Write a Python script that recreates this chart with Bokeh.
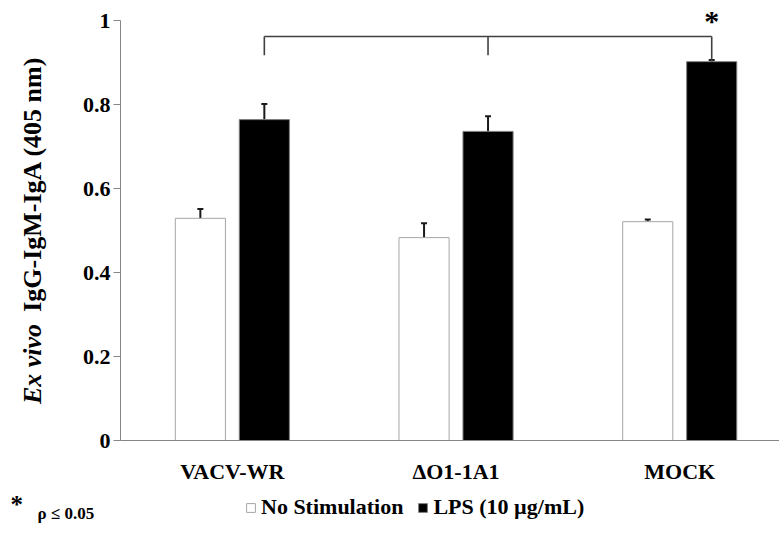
import math
from bokeh.plotting import figure
from bokeh.layouts import row, column
from bokeh.models import (ColumnDataSource, Range1d, FixedTicker, Label, Legend,
                          LegendItem, Whisker, TeeHead)
from bokeh.embed import file_html
from bokeh.resources import INLINE

# ---- data ----
groups = ["VACV-WR", "\u0394O1-1A1", "MOCK"]
no_stim = [0.529, 0.483, 0.521]
no_stim_err = [0.022, 0.034, 0.005]
lps = [0.764, 0.736, 0.902]
lps_err = [0.037, 0.036, 0.004]
y_ticks = [0, 0.2, 0.4, 0.6, 0.8, 1.0]
y_tick_labels = ["0", "0.2", "0.4", "0.6", "0.8", "1"]
series_names = ["No Stimulation", "LPS (10 \u00b5g/mL)"]
bracket_top = 0.962
bracket_ends = [0.917, 0.917, 0.903]

# ---- styling / layout constants ----
FONT = "Liberation Serif"
FS = "22px"
NS_FILL, NS_LINE = "white", "#a6a6a6"
LPS_FILL, LPS_LINE = "black", "#7f7f7f"
centers = [i + 0.5 for i in range(len(groups))]
off = 0.143
bw = 0.224
x_ns = [c - off for c in centers]
x_lps = [c + off for c in centers]

TOP_H = 486
LEFT_W = 62
Y_TOP = 440 / 420          # frame spans page y 0..440, value 1 at y=20

# ---------------- main plot ----------------
p = figure(width=779 - LEFT_W, height=TOP_H, output_backend="svg",
           toolbar_location=None, title=None,
           x_range=Range1d(0, 2.946), y_range=Range1d(0, Y_TOP),
           min_border_left=120 - LEFT_W, min_border_right=0, min_border_top=0,
           min_border_bottom=TOP_H - 440)
p.outline_line_color = None
p.xgrid.visible = False
p.ygrid.visible = False

src_ns = ColumnDataSource(dict(x=x_ns, top=no_stim,
                               upper=[v + e for v, e in zip(no_stim, no_stim_err)],
                               lower=[v - e for v, e in zip(no_stim, no_stim_err)]))
src_lps = ColumnDataSource(dict(x=x_lps, top=lps,
                                upper=[v + e for v, e in zip(lps, lps_err)],
                                lower=[v - e for v, e in zip(lps, lps_err)]))

p.vbar(x="x", top="top", bottom=0, width=bw, source=src_ns,
       fill_color=NS_FILL, line_color=NS_LINE, line_width=1)
p.vbar(x="x", top="top", bottom=0, width=bw, source=src_lps,
       fill_color=LPS_FILL, line_color=LPS_LINE, line_width=1)

for src in (src_ns, src_lps):
    p.add_layout(Whisker(base="x", upper="upper", lower="lower", source=src,
                         line_color="#1a1a1a", line_width=2,
                         upper_head=TeeHead(size=6, line_color="#1a1a1a", line_width=2),
                         lower_head=TeeHead(size=6, line_color="#1a1a1a", line_width=2)))

# significance bracket
p.segment(x0=[x_lps[0]], y0=[bracket_top], x1=[x_lps[-1]], y1=[bracket_top],
          line_color="#404040", line_width=1.6)
p.segment(x0=x_lps, y0=[bracket_top] * len(x_lps), x1=x_lps, y1=bracket_ends,
          line_color="#404040", line_width=1.6)
p.add_layout(Label(x=x_lps[-1], y=0.999, text="*", text_align="center",
                   text_baseline="alphabetic", text_font=FONT,
                   text_font_style="bold", text_font_size="30px",
                   text_color="black"))

# axes
p.yaxis.bounds = (0, 1)
p.yaxis.ticker = FixedTicker(ticks=y_ticks)
p.yaxis.major_label_overrides = {t: l for t, l in zip(y_ticks, y_tick_labels)}
p.yaxis.major_tick_out = 7
p.yaxis.major_tick_in = 0
p.yaxis.minor_tick_line_color = None
p.yaxis.axis_line_color = "#868686"
p.yaxis.major_tick_line_color = "#868686"
p.yaxis.major_label_standoff = 3
p.yaxis.major_label_text_font = FONT
p.yaxis.major_label_text_font_style = "bold"
p.yaxis.major_label_text_font_size = FS
p.yaxis.major_label_text_color = "black"

p.xaxis.ticker = FixedTicker(ticks=centers)
p.xaxis.major_label_overrides = {c: g for c, g in zip(centers, groups)}
p.xaxis.major_tick_out = 0
p.xaxis.major_tick_in = 0
p.xaxis.minor_tick_line_color = None
p.xaxis.major_tick_line_color = None
p.xaxis.axis_line_color = "#868686"
p.xaxis.major_label_standoff = 18
p.xaxis.major_label_text_font = FONT
p.xaxis.major_label_text_font_style = "bold"
p.xaxis.major_label_text_font_size = FS
p.xaxis.major_label_text_color = "black"

# ---------------- y-axis title strip (same vertical scale as the plot) ----------------
pl = figure(width=LEFT_W, height=TOP_H, output_backend="svg", toolbar_location=None,
            title=None, x_range=Range1d(0, LEFT_W), y_range=Range1d(0, Y_TOP),
            x_axis_type=None, y_axis_type=None, min_border_left=0,
            min_border_right=0, min_border_top=0, min_border_bottom=TOP_H - 440)
pl.outline_line_color = None
pl.grid.visible = False
TITLE_FS = "26px"
pl.add_layout(Label(x=32, y=(440 - 363.5) / 420, text="Ex vivo", angle=math.pi / 2,
                    text_align="center", text_baseline="middle", text_font=FONT,
                    text_font_style="bold italic", text_font_size=TITLE_FS,
                    text_color="black"))
pl.add_layout(Label(x=32, y=(440 - 183.5) / 420, text="IgG-IgM-IgA (405 nm)",
                    angle=math.pi / 2, text_align="center", text_baseline="middle",
                    text_font=FONT, text_font_style="bold",
                    text_font_size=TITLE_FS, text_color="black"))

# ---------------- footnote / legend strip ----------------
BOT_H = 534 - TOP_H
pb = figure(width=779, height=BOT_H, output_backend="svg", toolbar_location=None,
            title=None, x_range=Range1d(0, 779), y_range=Range1d(0, BOT_H),
            x_axis_type=None, y_axis_type=None, min_border=0)
pb.outline_line_color = None
pb.grid.visible = False
pb.add_layout(Label(x=10, y=534 - 504, text="*", text_align="left",
                    text_baseline="alphabetic", text_font=FONT,
                    text_font_style="bold", text_font_size="25px",
                    text_color="black"))
pb.add_layout(Label(x=37, y=534 - 513, text="\u03c1 \u2264 0.05", text_align="left",
                    text_baseline="alphabetic", text_font=FONT,
                    text_font_style="bold", text_font_size="17px",
                    text_color="black"))
# legend keys: same styles as the bars, with a single undefined point (nothing drawn)
nan = float("nan")
k_ns = pb.vbar(x=[nan], top=[nan], width=1, fill_color=NS_FILL, line_color=NS_LINE)
k_lps = pb.vbar(x=[nan], top=[nan], width=1, fill_color=LPS_FILL, line_color=LPS_LINE)
legend = Legend(items=[LegendItem(label=series_names[0], renderers=[k_ns]),
                       LegendItem(label=series_names[1], renderers=[k_lps])],
                location=(245, 534 - 520), orientation="horizontal",
                glyph_width=11, glyph_height=11, label_standoff=5, spacing=14,
                padding=0, margin=0, border_line_color=None,
                background_fill_alpha=0, label_text_font=FONT,
                label_text_font_style="bold", label_text_font_size=FS,
                label_text_color="black", label_height=24)
pb.add_layout(legend, "center")

layout = column(row(pl, p), pb)
open("out.html", "w").write(file_html(layout, INLINE))
